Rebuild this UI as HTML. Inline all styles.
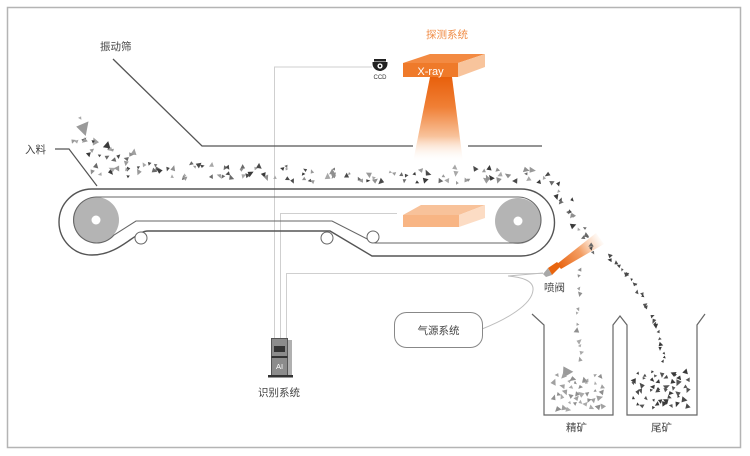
<!DOCTYPE html>
<html><head><meta charset="utf-8">
<style>
html,body{margin:0;padding:0;background:#fff;}
svg{display:block;}
text{font-family:"Liberation Sans","Noto Sans CJK SC",sans-serif;}
</style></head>
<body>
<svg id="s" width="750" height="456" viewBox="0 0 750 456" xmlns="http://www.w3.org/2000/svg">
<defs>
<linearGradient id="beam" x1="0" y1="77" x2="0" y2="162" gradientUnits="userSpaceOnUse">
<stop offset="0" stop-color="#e8600c"/>
<stop offset="0.35" stop-color="#f07f35"/>
<stop offset="0.7" stop-color="#f8c39c"/>
<stop offset="1" stop-color="#ffffff" stop-opacity="0"/>
</linearGradient>
<linearGradient id="spray" x1="558" y1="266" x2="602" y2="238" gradientUnits="userSpaceOnUse">
<stop offset="0" stop-color="#e8620f"/>
<stop offset="0.5" stop-color="#f0853c" stop-opacity="0.8"/>
<stop offset="1" stop-color="#f8b888" stop-opacity="0"/>
</linearGradient>
</defs>
<rect x="7.5" y="7.5" width="733" height="440" fill="none" stroke="#b4b4b4" stroke-width="1.5"/>

<!-- signal lines -->
<g fill="none" stroke="#cfcfcf" stroke-width="1">
<polyline points="372,67 274.5,67 274.5,338"/>
<polyline points="280.5,338 280.5,213.5 397,213.5"/>
<polyline points="286.5,338 286.5,273.5 543,273.5"/>
</g>
<path d="M482,329 C505,320 532,305 533,290 C534,280 520,277 508,276 L543,273" fill="none" stroke="#bdbdbd" stroke-width="1"/>

<!-- vibrating screen -->
<polyline points="113,59 202,146 413,146" fill="none" stroke="#555" stroke-width="1.3"/>
<line x1="468" y1="146" x2="542" y2="146" stroke="#555" stroke-width="1.3"/>
<!-- feed line -->
<polyline points="55,149 69,149 97,186" fill="none" stroke="#555" stroke-width="1.2"/>

<!-- x-ray beam -->
<polygon points="430,77 452,77 463,162 413,162" fill="url(#beam)"/>
<!-- x-ray box -->
<polygon points="403,63 430,54 485,54 458,63" fill="#f38a42"/>
<polygon points="458,63 485,54 485,67 458,77" fill="#f8c49c"/>
<rect x="403" y="63" width="55" height="14" fill="#ef7a2a"/>
<text x="430.5" y="75" font-size="11" fill="#fff" text-anchor="middle">X-ray</text>
<text x="426" y="38" font-size="10.5" fill="#f08c46">探测系统</text>

<!-- CCD -->
<rect x="374" y="59" width="12" height="2.5" fill="#222"/>
<path d="M372.5,62 h15 v1.5 a7.5 7.5 0 0 1 -15 0 z" fill="#222"/>
<circle cx="380" cy="66" r="2.6" fill="#fff"/>
<circle cx="380" cy="66" r="1.2" fill="#222"/>
<text x="380" y="79" font-size="6" fill="#333" text-anchor="middle">CCD</text>

<!-- belt -->
<circle cx="96" cy="220" r="23" fill="#b4b4b4"/>
<circle cx="96" cy="220" r="4.5" fill="#fff"/>
<circle cx="518" cy="221" r="23" fill="#b4b4b4"/>
<circle cx="518" cy="221" r="4.5" fill="#fff"/>
<path d="M92,189 L521,189 A33.5 33.5 0 0 1 521,256 L372,256 L330,231 L148,231 C135,231 120,255 92,255 A33 33 0 0 1 92,189 Z" fill="none" stroke="#555" stroke-width="1.4"/>
<path d="M96,197 L518,197 A23 23 0 0 1 518,243 L375,243 L332,221 L136,221 L114,235 A23 23 0 1 1 96,197" fill="none" stroke="#666" stroke-width="1.1"/>
<g fill="#fff" stroke="#666" stroke-width="1">
<circle cx="141" cy="238" r="6"/>
<circle cx="327" cy="238" r="6"/>
<circle cx="373" cy="237" r="6"/>
</g>

<!-- detector plate -->
<polygon points="403,215 421,205 485,205 459,215" fill="#f8c29a"/>
<polygon points="459,215 485,205 485,218 459,227" fill="#fcdcc4"/>
<rect x="403" y="215" width="56" height="12" fill="#f8b584"/>

<!-- valve + spray -->
<polygon points="557,264 596,233 604,244 561,269" fill="url(#spray)"/>
<polygon points="548,268 557,262 561,266 552,275" fill="#e8650f"/>
<polygon points="543,274 548,268 552,275 546,277" fill="#a8a8a8"/>
<text x="544" y="291" font-size="10.5" fill="#444">喷阀</text>

<!-- air source -->
<rect x="394.5" y="312.5" width="88" height="35" rx="12" fill="#fff" stroke="#888" stroke-width="1"/>
<text x="438.5" y="334" font-size="10.5" fill="#444" text-anchor="middle">气源系统</text>

<!-- AI box -->
<rect x="285" y="340" width="7" height="36" fill="#b0b0b0"/>
<rect x="271.5" y="338.5" width="16" height="37" fill="#8c8c8c" stroke="#555" stroke-width="1"/>
<rect x="274" y="346" width="11" height="6" fill="#333"/>
<rect x="271.5" y="356" width="16" height="2" fill="#333"/>
<text x="279.5" y="369" font-size="7.5" fill="#fff" text-anchor="middle">AI</text>
<rect x="268" y="375" width="25" height="2.5" fill="#333"/>
<text x="258" y="396" font-size="10.5" fill="#444">识别系统</text>

<!-- bins -->
<polyline points="532,314 544,325 544,415 613,415 613,325 620,316 627,325 627,415 697,415 697,325 705,314" fill="none" stroke="#666" stroke-width="1.2"/>
<text x="566" y="431" font-size="10.5" fill="#444">精矿</text>
<text x="651" y="431" font-size="10.5" fill="#444">尾矿</text>

<text x="100" y="50" font-size="10.5" fill="#444">振动筛</text>
<text x="25" y="153" font-size="10.5" fill="#444">入料</text>

<g id="p"></g>
</svg>
<script>
(function(){
var seed=24691;
function r(){seed=(seed*16807)%2147483647;return (seed-1)/2147483646;}
var g=document.getElementById('p');
var NS='http://www.w3.org/2000/svg';
function tri(x,y,s,c){
  var a=r()*6.283,pts=[];
  for(var i=0;i<3;i++){
    var ang=a+i*2.094+(r()-.5)*0.5;
    var rr=s*(0.8+r()*0.35);
    pts.push((x+rr*Math.cos(ang)).toFixed(1)+','+(y+rr*Math.sin(ang)).toFixed(1));
  }
  var p=document.createElementNS(NS,'polygon');
  p.setAttribute('points',pts.join(' '));p.setAttribute('fill',c);g.appendChild(p);
}
function pick(a){return a[Math.floor(r()*a.length)];}
function along(pts,n,spread,cols,smin,smax){
  var segs=pts.length-1;
  for(var k=0;k<n;k++){
    var u=(k+r())/n*segs;
    var seg=Math.min(segs-1,Math.floor(u)), t=u-seg;
    var x=pts[seg][0]+(pts[seg+1][0]-pts[seg][0])*t+(r()-.5)*spread;
    var y=pts[seg][1]+(pts[seg+1][1]-pts[seg][1])*t+(r()-.5)*spread;
    tri(x,y,smin+r()*(smax-smin),pick(cols));
  }
}
function box(x0,y0,w,h,n,cols,smin,smax){
  var cols_n=Math.ceil(Math.sqrt(n*w/h)), rows=Math.ceil(n/cols_n);
  for(var i=0;i<rows;i++)for(var j=0;j<cols_n;j++){
    var x=x0+(j+r())*w/cols_n, y=y0+(i+r())*h/rows;
    tri(x,y,smin+r()*(smax-smin),pick(cols));
  }
}
var D=['#3a3a3a','#4a4a4a','#555555'],L=['#8f8f8f','#a0a0a0','#aaaaaa'],M=['#3a3a3a','#4a4a4a','#8f8f8f','#9a9a9a','#a8a8a8','#6a6a6a'];
// feed pile
tri(84,128,8,'#9a9a9a');tri(80,118,2,'#aaa');tri(95,141,4.5,'#a0a0a0');tri(107,146,4.5,'#3a3a3a');tri(134,152,4,'#a0a0a0');
along([[72,140],[100,152],[130,160]],16,12,M,1.8,3.2);
// belt band
along([[95,170],[300,174],[545,176]],105,16,M,1.8,3.8);
// falling off end
along([[545,178],[560,195],[572,213],[582,230],[594,250]],22,12,M,1.8,3.4);
// left stream
along([[578,262],[579,300],[577,335],[581,365]],12,4,L,1.8,3.4);
// left pile
tri(566,372,7,'#9a9a9a');
box(553,375,52,35,36,L,1.8,3.8);
// right stream
along([[606,256],[628,276],[646,302],[658,335],[664,366]],26,5,D,1.6,3.2);
// right pile
box(633,370,56,38,42,D,1.8,3.8);
})();
</script>
</body></html>
